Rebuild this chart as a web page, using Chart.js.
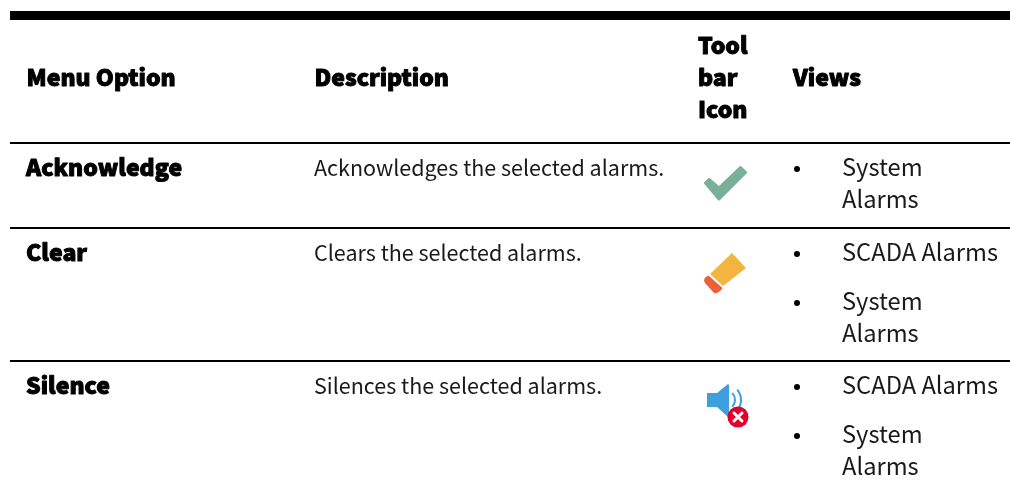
<!DOCTYPE html>
<html>
<head>
<meta charset="utf-8">
<title>Alarm menu options</title>
<script src="https://cdn.jsdelivr.net/npm/chart.js@4"></script>
<style>
  html, body { margin: 0; padding: 0; background: #fff; }
  canvas { display: block; }
</style>
</head>
<body>
<canvas id="tableChart" width="1010" height="487"></canvas>
<script>
const headers = ["Menu Option", "Description", ["Tool", "bar", "Icon"], "Views"];
const menuOptions = ["Acknowledge", "Clear", "Silence"];
const descriptions = [
  "Acknowledges the selected alarms.",
  "Clears the selected alarms.",
  "Silences the selected alarms."
];
const views = [
  [["System", "Alarms"]],
  [["SCADA Alarms"], ["System", "Alarms"]],
  [["SCADA Alarms"], ["System", "Alarms"]]
];

// layout, in table units (1 unit = 1 css pixel)
const ruleRows = [15.5, 143, 228, 361];
const headerBaseline = 86;
const toolbarBaselines = [53.5, 86, 118];
const rowBaselines = [176, 261, 394];
const iconRows = [183, 273, 400];
const colX = { menu: 26, desc: 314, icon: 698, iconMid: 725, bullet: 797, views: 842 };
const LINE_H = 32;
const VIEW_GAP = 49;

const FONT = '"Noto Sans CJK SC", "Open Sans", sans-serif';

function makeIcon(draw) {
  const c = document.createElement("canvas");
  c.width = 70;
  c.height = 70;
  const g = c.getContext("2d");
  g.translate(35, 35);
  draw(g);
  return c;
}

function poly(g, pts) {
  g.beginPath();
  pts.forEach((p, i) => i ? g.lineTo(p[0], p[1]) : g.moveTo(p[0], p[1]));
  g.closePath();
}

const checkIcon = makeIcon(g => {
  g.fillStyle = g.strokeStyle = "#78b09a";
  g.lineWidth = 3;
  g.lineJoin = "round";
  poly(g, [[-19.5, 0], [-16, -3.5], [-6, 5], [15.5, -15.5], [20.5, -10.5], [-6, 16]]);
  g.fill();
  g.stroke();
});

const eraserIcon = makeIcon(g => {
  g.fillStyle = "#f4b540";
  poly(g, [[7, -20], [21, -5], [-2, 13], [-15, 1]]);
  g.fill();
  g.fillStyle = "#e9603a";
  g.beginPath();
  g.moveTo(-16.5, 2.5);
  g.lineTo(-2.5, 15);
  g.quadraticCurveTo(-6, 21, -11, 20);
  g.lineTo(-20, 10);
  g.quadraticCurveTo(-23, 5, -16.5, 2.5);
  g.closePath();
  g.fill();
});

const speakerIcon = makeIcon(g => {
  g.fillStyle = "#3d9fdc";
  poly(g, [[-18, -7], [-8, -7], [3, -16], [4, -15], [4, 16], [3, 17], [-8, 7], [-18, 7]]);
  g.fill();
  g.strokeStyle = "#3d9fdc";
  g.lineWidth = 2;
  g.beginPath();
  g.arc(0, 0, 10, -0.75, 0.75);
  g.stroke();
  g.beginPath();
  g.arc(0, 0, 16, -0.7, 0.7);
  g.stroke();
  g.fillStyle = "#e3002b";
  g.beginPath();
  g.arc(13, 17, 10.5, 0, Math.PI * 2);
  g.fill();
  g.strokeStyle = "#fff";
  g.lineWidth = 3;
  g.lineCap = "round";
  g.beginPath();
  g.moveTo(9, 13);
  g.lineTo(17, 21);
  g.moveTo(17, 13);
  g.lineTo(9, 21);
  g.stroke();
});

const icons = [checkIcon, eraserIcon, speakerIcon];

// bold text: the reference uses a heavier cut than the installed bold, so thicken it
function heavyText(ctx, text, x, y, size, extra) {
  ctx.font = `900 ${size}px ${FONT}`;
  ctx.lineWidth = extra;
  ctx.lineJoin = "round";
  ctx.strokeStyle = "#000";
  ctx.strokeText(text, x, y);
  ctx.fillText(text, x, y);
}

const tableText = {
  id: "tableText",
  afterDatasetsDraw(chart) {
    const { ctx, scales } = chart;
    const X = v => scales.x.getPixelForValue(v);
    const Y = v => scales.y.getPixelForValue(v);
    ctx.save();
    ctx.fillStyle = "#000";
    ctx.textBaseline = "alphabetic";
    ctx.textAlign = "left";

    // header
    heavyText(ctx, headers[0], X(26.5), Y(headerBaseline), 23, 1);
    heavyText(ctx, headers[1], X(colX.desc + 0.5), Y(headerBaseline), 23, 1);
    headers[2].forEach((t, i) => heavyText(ctx, t, X(colX.icon), Y(toolbarBaselines[i]), 23, 1));
    heavyText(ctx, headers[3], X(793), Y(headerBaseline), 23, 1);

    // rows
    menuOptions.forEach((name, r) => {
      const base = rowBaselines[r];
      heavyText(ctx, name, X(colX.menu), Y(base), 23, 1);
      ctx.font = `400 21.5px ${FONT}`;
      ctx.fillStyle = "#1a1a1a";
      ctx.fillText(descriptions[r], X(colX.desc), Y(base));
      let y = base;
      views[r].forEach(lines => {
        ctx.fillStyle = "#000";
        ctx.beginPath();
        ctx.arc(X(colX.bullet), Y(y - 7), 3, 0, Math.PI * 2);
        ctx.fill();
        ctx.fillStyle = "#1a1a1a";
        ctx.font = `400 23.7px ${FONT}`;
        lines.forEach((t, i) => ctx.fillText(t, X(colX.views), Y(y + i * LINE_H)));
        y += VIEW_GAP;
      });
      ctx.fillStyle = "#000";
    });
    ctx.restore();
  }
};

const ctx = document.getElementById("tableChart").getContext("2d");
new Chart(ctx, {
  type: "scatter",
  data: {
    datasets: [{
      label: "Toolbar icons",
      data: iconRows.map(y => ({ x: colX.iconMid, y: y })),
      pointStyle: icons,
      pointRadius: 35,
      clip: false,
      showLine: false
    }]
  },
  options: {
    responsive: false,
    animation: false,
    layout: { autoPadding: false, padding: { left: 10, right: 0, top: 0, bottom: 0 } },
    plugins: { legend: { display: false }, tooltip: { enabled: false } },
    scales: {
      x: { type: "linear", min: 10, max: 1010, display: false },
      y: {
        type: "linear",
        min: 0,
        max: 487,
        reverse: true,
        display: true,
        afterFit(axis) { axis.width = 0; },
        afterBuildTicks(axis) { axis.ticks = ruleRows.map(v => ({ value: v })); },
        ticks: { display: false },
        border: { display: false },
        grid: {
          drawTicks: false,
          color: "#000",
          lineWidth: c => (c.index === 0 ? 9 : 2)
        }
      }
    }
  },
  plugins: [tableText]
});
</script>
</body>
</html>
